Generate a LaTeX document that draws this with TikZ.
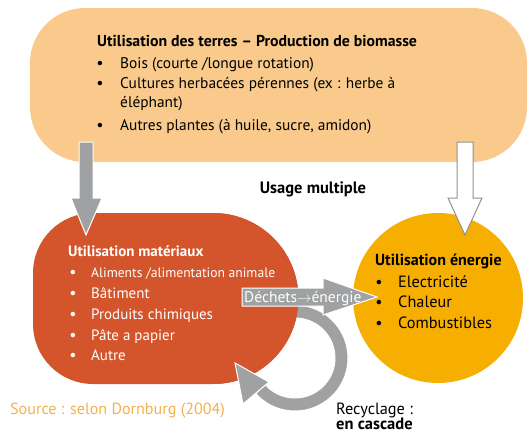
\documentclass[tikz,border=0pt]{standalone}
\usepackage{fontspec}
\setmainfont{PT Sans}
\definecolor{topc}{HTML}{F9CA8C}
\definecolor{matc}{HTML}{D4552B}
\definecolor{enc}{HTML}{F6AE00}
\definecolor{grayc}{HTML}{A0A1A3}
\definecolor{srcc}{HTML}{F4B04C}
\begin{document}
\begin{tikzpicture}[x=1pt,y=-1pt,
  txt/.style={inner sep=0pt,anchor=base west,font=\fontsize{15.4}{17}\selectfont},
  ttl/.style={inner sep=0pt,anchor=base west,font=\fontsize{15.8}{17}\selectfont\bfseries},
  bul/.style={inner sep=0pt,anchor=base,font=\fontsize{16}{17}\selectfont},
  mtxt/.style={txt,text=white,font=\fontsize{15}{17}\selectfont},
  etxt/.style={txt,font=\fontsize{16.3}{18}\selectfont},
  grayarrow/.style={fill=grayc,draw=white,line width=1pt}]
\useasboundingbox (0,0) rectangle (530,434);
% top box
\fill[topc,rounded corners=55pt] (30,8) rectangle (527,162);
% materials blob
\fill[matc] (93,213) -- (213,213) arc(-90:90:85.5) -- (93,384) arc(90:180:60) -- (33,273) arc(180:270:60) -- cycle;
% energy circle
\fill[enc] (438,298) circle (85);
% recycling arc band
\fill[grayc,draw=white,line width=1pt] (295,358) ++(-115:53) arc(-115:138:53) -- ++(138:-13) arc(138:-115:40) -- cycle;
% redraw blob part over arc top
\fill[matc] (213,213) arc(-90:90:85.5) -- cycle;
% arrowhead of recycling
\fill[grayarrow] (235,363) -- (269,382) -- (243,404) -- cycle;
% down arrows
\fill[grayarrow] (79,142) -- (93,142) -- (93,198) -- (102,198) -- (86,235) -- (71,198) -- (79,198) -- cycle;
\filldraw[fill=white,draw=grayc!90!black,line width=1pt] (457,142) -- (473,142) -- (473,198) -- (482,198) -- (465,235) -- (448,198) -- (457,198) -- cycle;
% dechets arrow
\fill[grayarrow] (242,288) -- (323,288) -- (323,278) -- (377,297) -- (323,315) -- (323,306) -- (242,306) -- cycle;
\node[txt,text=white,font=\fontsize{15.5}{17}\selectfont] (dech) at (244,302.5) {Déchets$\rightarrow$énergie};
% top texts
\node[ttl] (t0) at (97,46.5) {Utilisation des terres – Production de biomasse};
\node[bul] (b1) at (100,68) {•};
\node[txt] (t1) at (120,68) {Bois (courte /longue rotation)};
\node[bul] (b2) at (100,88.5) {•};
\node[txt] (t2) at (120,88.5) {Cultures herbacées pérennes (ex : herbe à};
\node[txt] (t2b) at (120,107.5) {éléphant)};
\node[bul] (b3) at (100,130) {•};
\node[txt] (t3) at (120,130) {Autres plantes (à huile, sucre, amidon)};
% usage multiple
\node[ttl,anchor=base,font=\fontsize{16.5}{18}\selectfont\bfseries] (um) at (313,193) {Usage multiple};
% materials
\node[ttl,text=white,font=\fontsize{15}{17}\selectfont\bfseries] (m0) at (68,256) {Utilisation matériaux};
\node[bul,text=white] (mb1) at (73,277) {•};
\node[mtxt,font=\fontsize{13.6}{17}\selectfont] (m1) at (91,277) {Aliments /alimentation animale};
\foreach \y/\t [count=\i from 2] in {298/{Bâtiment},319/{Produits chimiques},340/{Pâte a papier},360/{Autre}}{
  \node[bul,text=white] (mb\i) at (73,\y) {•};
  \node[mtxt] (m\i) at (91,\y) {\t};
}
% energy
\node[ttl,font=\fontsize{16}{17}\selectfont\bfseries] (e0) at (375,265) {Utilisation énergie};
\foreach \y/\t [count=\i] in {287/Electricité,307/Chaleur,328/Combustibles}{
  \node[bul] (eb\i) at (379,\y) {•};
  \node[etxt] (e\i) at (398,\y) {\t};
}
% source
\node[txt,text=srcc,font=\fontsize{16.1}{18}\selectfont] (src) at (10,414) {Source : selon Dornburg (2004)};
\node[etxt] (rec) at (336,414) {Recyclage :};
\node[ttl,font=\fontsize{16.5}{18}\selectfont\bfseries] (casc) at (336,429.5) {en cascade};
\end{tikzpicture}
\end{document}
